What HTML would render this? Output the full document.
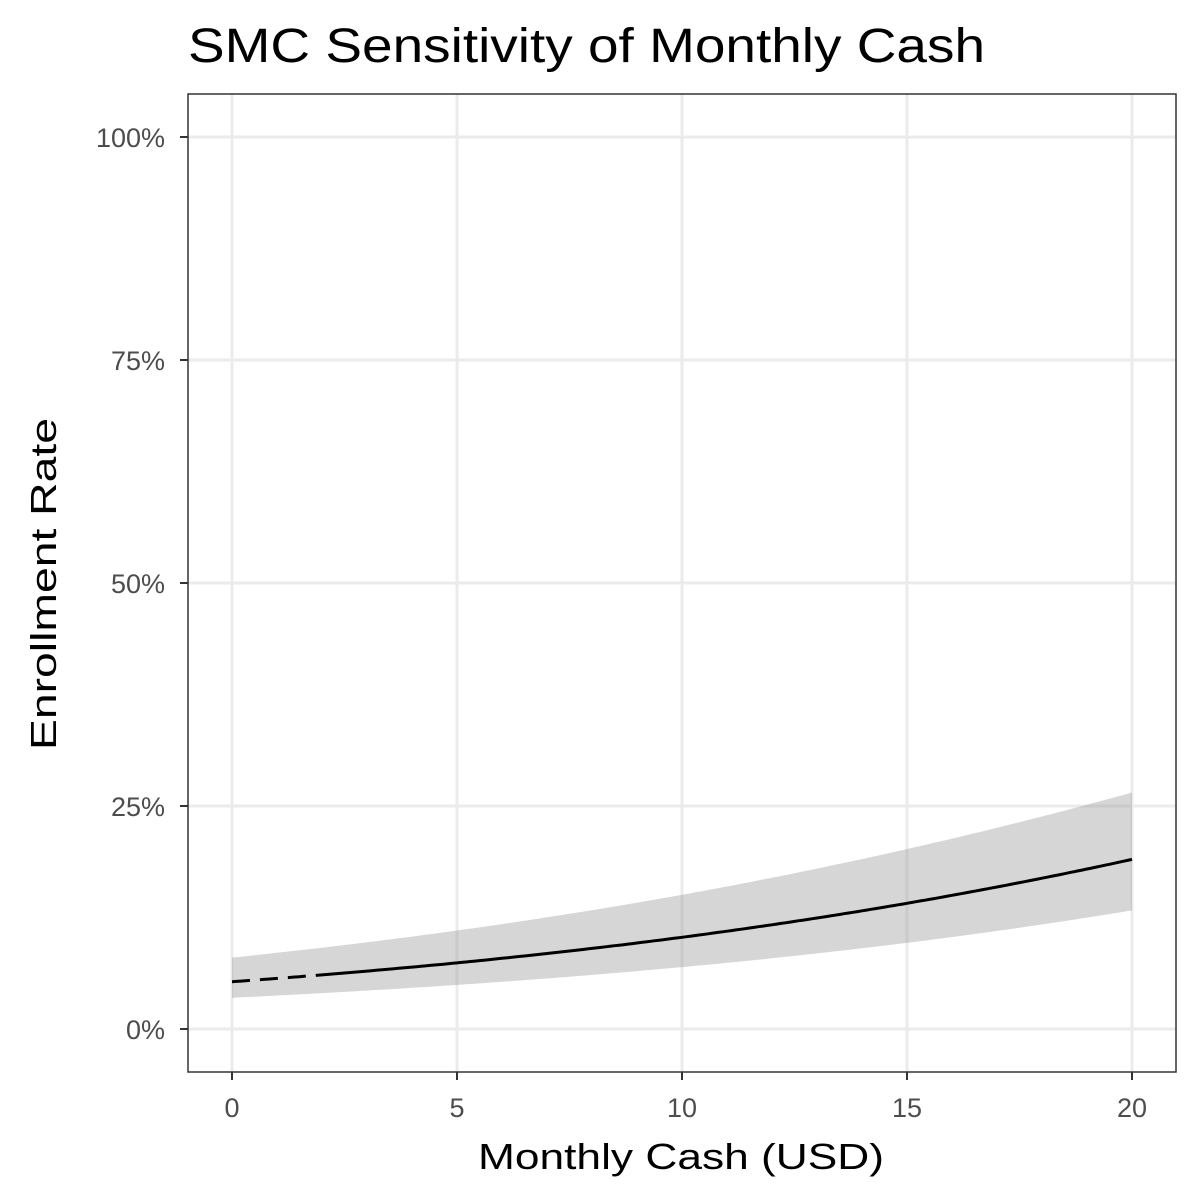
<!DOCTYPE html>
<html><head><meta charset="utf-8"><style>
html,body{margin:0;padding:0;background:#fff;}
svg{display:block;font-family:"Liberation Sans",sans-serif;}
</style></head><body>
<svg id="s" width="1200" height="1200" viewBox="0 0 1200 1200">
<rect width="1200" height="1200" fill="#fff"/>
<text x="188" y="62" font-size="48" fill="#000" textLength="797" lengthAdjust="spacingAndGlyphs">SMC Sensitivity of Monthly Cash</text>
<g stroke="#ebebeb" stroke-width="3">
<line x1="188" x2="1176" y1="1029" y2="1029"/>
<line x1="188" x2="1176" y1="806" y2="806"/>
<line x1="188" x2="1176" y1="583" y2="583"/>
<line x1="188" x2="1176" y1="360" y2="360"/>
<line x1="188" x2="1176" y1="137" y2="137"/>
<line y1="94" y2="1072" x1="232" x2="232"/>
<line y1="94" y2="1072" x1="457" x2="457"/>
<line y1="94" y2="1072" x1="682" x2="682"/>
<line y1="94" y2="1072" x1="907" x2="907"/>
<line y1="94" y2="1072" x1="1132" x2="1132"/>
</g>
<path id="rib" fill="#999" fill-opacity="0.4"/>
<path id="dash" fill="none" stroke="#000" stroke-width="3" stroke-dasharray="18,10"/>
<path id="solid" fill="none" stroke="#000" stroke-width="3"/>
<rect x="188" y="94" width="988" height="978" fill="none" stroke="#333" stroke-width="1.5"/>
<g stroke="#333" stroke-width="2">
<line x1="180" x2="188" y1="1029" y2="1029"/><line x1="180" x2="188" y1="806" y2="806"/>
<line x1="180" x2="188" y1="583" y2="583"/><line x1="180" x2="188" y1="360" y2="360"/>
<line x1="180" x2="188" y1="137" y2="137"/>
<line y1="1072" y2="1080" x1="232" x2="232"/><line y1="1072" y2="1080" x1="457" x2="457"/>
<line y1="1072" y2="1080" x1="682" x2="682"/><line y1="1072" y2="1080" x1="907" x2="907"/>
<line y1="1072" y2="1080" x1="1132" x2="1132"/>
</g>
<g font-size="27" fill="#4d4d4d" text-anchor="end">
<text x="165" y="1039">0%</text><text x="165" y="816">25%</text><text x="165" y="593">50%</text>
<text x="165" y="370">75%</text><text x="165" y="147">100%</text>
</g>
<g font-size="27" fill="#4d4d4d" text-anchor="middle">
<text x="232" y="1117">0</text><text x="457" y="1117">5</text><text x="682" y="1117">10</text>
<text x="907" y="1117">15</text><text x="1132" y="1117">20</text>
</g>
<text x="478" y="1169" font-size="36" fill="#000" textLength="406" lengthAdjust="spacingAndGlyphs">Monthly Cash (USD)</text>
<text transform="translate(56,750) rotate(-90)" font-size="36" fill="#000" textLength="332" lengthAdjust="spacingAndGlyphs">Enrollment Rate</text>
</svg>
<script>
function P(a,b,x){return 1/(1+Math.exp(-(a+b*x)));}
function X(x){return 232+45*x;} function Y(p){return 1029-892*p;}
var up=[],lo=[],d="",s="";
for(var i=0;i<=200;i++){var x=i/10;
up.push(X(x).toFixed(1)+","+Y(P(-2.442,0.0711,x)).toFixed(1));
lo.push(X(x).toFixed(1)+","+Y(P(-3.317,0.0721,x)).toFixed(1));
var pt=X(x).toFixed(1)+","+Y(P(-2.883,0.0717,x)).toFixed(1);
if(x<=2)d+=(d?"L":"M")+pt; if(x>=2)s+=(s?"L":"M")+pt;}
document.getElementById("rib").setAttribute("d","M"+up.join("L")+"L"+lo.reverse().join("L")+"Z");
document.getElementById("dash").setAttribute("d",d);
document.getElementById("solid").setAttribute("d",s);
</script>
</body></html>
